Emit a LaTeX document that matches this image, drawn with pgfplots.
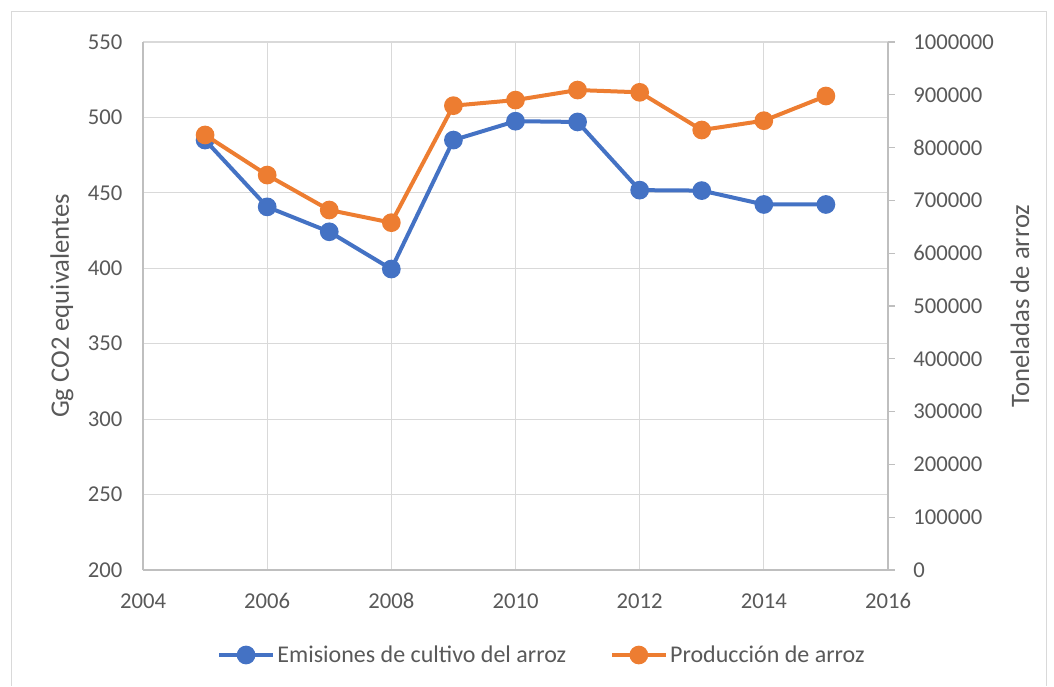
\documentclass[border=0pt]{standalone}
\usepackage{pgfplots}
\pgfplotsset{compat=1.18}
\usepackage{fontspec}
\setmainfont{Carlito}
\definecolor{tx}{HTML}{595959}
\definecolor{gr}{HTML}{D9D9D9}
\definecolor{ax}{HTML}{BFBFBF}
\definecolor{bl}{HTML}{4472C4}
\definecolor{orc}{HTML}{ED7D31}
\begin{document}
\begin{tikzpicture}[x=0.75pt,y=0.75pt]
\useasboundingbox (0,0) rectangle (1054,686);
\draw[gr, line width=0.75pt] (11,0) -- (11,674) -- (1046,674) -- (1046,0);
\coordinate (O) at (143,116);
\pgfplotsset{
  every axis/.append style={
    font=\fontsize{17}{20}\selectfont,
    /pgf/number format/assume math mode=true,
    /pgf/number format/1000 sep={},
    /pgf/number format/fixed,
    scale only axis, width=558.75pt, height=396pt,
    at={(O)}, anchor=south west,
    xmin=2004, xmax=2016,
    tick label style={text=tx},
    label style={text=tx, font=\fontsize{20}{24}\selectfont},
    clip=false,
  },
}
\begin{axis}[
  axis x line*=bottom, axis y line*=left,
  axis line style={ax, line width=0.9pt},
  ymin=200, ymax=550, ytick distance=50,
  xtick distance=2,
  grid=major, grid style={gr, line width=0.9pt},
  major tick length=0pt,
  yticklabel style={xshift=-12pt},
  xticklabel style={yshift=-14pt},
  ylabel={Gg CO2 equivalentes},
  ylabel style={at={(axis description cs:-0.1087,0.5)}, anchor=center, rotate=0},
  legend style={draw=none, fill=none, at={(axis description cs:0.536,-0.161)}, anchor=center,
    legend columns=2, font=\fontsize{18}{22}\selectfont, text=tx,
    /tikz/every even column/.append style={column sep=31pt}},
  legend cell align=left,
  legend image code/.code={\draw[mark repeat=2,mark phase=2] plot coordinates {(0pt,0pt) (20pt,0pt) (40pt,0pt)};},
]
\addplot[bl, line width=3pt, mark=*, mark size=5.5pt, mark options={solid}] coordinates {
(2005,485.0) (2006,440.7) (2007,424.2) (2008,399.5) (2009,485.0) (2010,497.5)
(2011,497.0) (2012,451.8) (2013,451.5) (2014,442.3) (2015,442.3)};
\addlegendentry{Emisiones de cultivo del arroz}
\addlegendimage{orc, line width=3pt, mark=*, mark size=5.5pt}
\addlegendentry{Producción de arroz}
\end{axis}
\begin{axis}[
  axis x line=none, axis y line*=right,
  axis line style={ax, line width=0.9pt},
  ymin=0, ymax=1000000, ytick distance=100000,
  scaled y ticks=false,
  tick align=outside, major tick length=5pt,
  tick style={ax, line width=0.9pt},
  yticklabel style={xshift=10.5pt},
  ylabel={Toneladas de arroz},
  ylabel style={at={(axis description cs:1.177,0.5)}, anchor=center, rotate=0},
]
\addplot[orc, line width=3pt, mark=*, mark size=5.5pt, mark options={solid}] coordinates {
(2005,823900) (2006,748000) (2007,681800) (2008,657800) (2009,879400) (2010,890000)
(2011,909000) (2012,904700) (2013,833300) (2014,851000) (2015,897700)};
\end{axis}
\end{tikzpicture}
\end{document}
